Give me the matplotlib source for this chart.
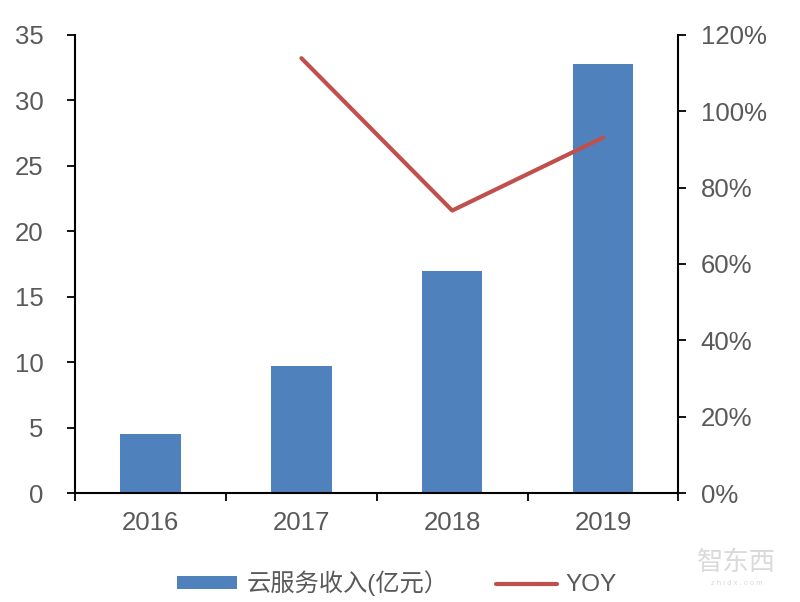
import matplotlib
matplotlib.use("Agg")
import matplotlib.pyplot as plt
from matplotlib.ticker import FuncFormatter, MultipleLocator

years = ["2016", "2017", "2018", "2019"]
revenue = [4.5, 9.7, 17.0, 32.8]
yoy_years = ["2017", "2018", "2019"]
yoy = [113.9, 74.0, 93.1]

plt.rcParams['font.family'] = ['Liberation Sans', 'Noto Sans CJK SC', 'DejaVu Sans']
gray = '#595959'
fs = 18.5

fig = plt.figure(figsize=(8, 6.02), dpi=100)
ax = fig.add_axes([0.094, 0.181, 0.754, 0.761])
x = list(range(len(years)))
bars = ax.bar(x, revenue, width=0.4, color='#4F81BD', label='云服务收入(亿元）', zorder=2)
ax.set_xlim(-0.5, len(years) - 0.5)
ax.set_ylim(0, 35)
ax.yaxis.set_major_locator(MultipleLocator(5))
ax.set_xticks([i - 0.5 for i in range(len(years) + 1)], minor=False)
ax.set_xticklabels([])
ax.set_xticks(x, minor=True)
ax.set_xticklabels(years, minor=True)
ax.tick_params(axis='x', which='major', direction='out', length=6, width=1.3, colors='black')
ax.tick_params(axis='x', which='minor', length=0, pad=13, labelsize=fs, labelcolor=gray)
ax.tick_params(axis='y', direction='out', length=6, width=1.3, labelsize=fs, labelcolor=gray, pad=17)
for s in ['top', 'right']:
    ax.spines[s].set_visible(False)
for s in ['left', 'bottom']:
    ax.spines[s].set_linewidth(1.5)

ax2 = ax.twinx()
yx = [years.index(y) for y in yoy_years]
line, = ax2.plot(yx, yoy, color='#C0504D', lw=3, label='YOY', zorder=3, solid_capstyle='round')
ax2.set_ylim(0, 120)
ax2.yaxis.set_major_locator(MultipleLocator(20))
ax2.yaxis.set_major_formatter(FuncFormatter(lambda v, p: f"{v:.0f}%"))
ax2.tick_params(axis='y', direction='out', length=6, width=1.3, labelsize=fs, labelcolor=gray, pad=10)
for s in ['top', 'left', 'bottom']:
    ax2.spines[s].set_visible(False)
ax2.spines['right'].set_linewidth(1.5)

leg = fig.legend([bars, line], ['云服务收入(亿元）', 'YOY'], loc='center', bbox_to_anchor=(0.496, 0.031),
                 ncol=2, frameon=False, fontsize=17.5, handlelength=2.5, handleheight=0.45,
                 columnspacing=1.95, handletextpad=0.37, borderpad=0, borderaxespad=0)
for t in leg.get_texts():
    t.set_color(gray)

fig.text(0.921, 0.066, '智东西', fontsize=19, color='#dadada', ha='center', va='center',
         family=['Noto Sans CJK SC'])
fig.text(0.921, 0.030, 'z h i d x . c o m', fontsize=5.5, color='#dadada', ha='center', va='center')

fig.savefig('out.png', dpi=100)
